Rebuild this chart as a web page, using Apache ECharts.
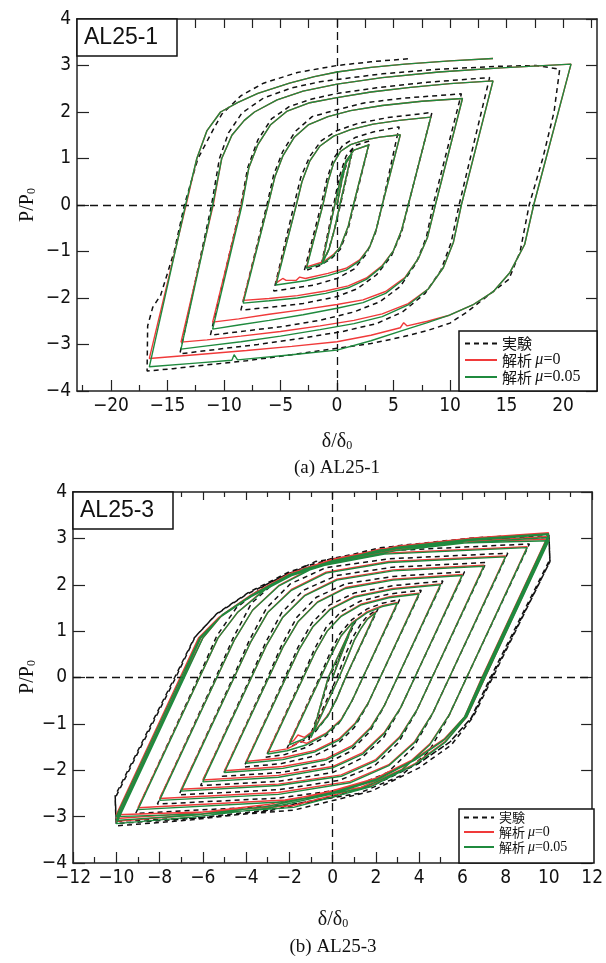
<!DOCTYPE html>
<html><head><meta charset="utf-8">
<script src="https://cdn.jsdelivr.net/npm/echarts@6/dist/echarts.min.js"></script>
<style>html,body{margin:0;padding:0;background:#fff}#c{width:606px;height:963px}</style>
</head><body><div id="c"></div><script>
const seriesNames = ['実験', '解析 μ=0', '解析 μ=0.05'];
const topXLabels = [-20, -15, -10, -5, 0, 5, 10, 15, 20];
const topXMinor = [-22.5, -17.5, -12.5, -7.5, -2.5, 2.5, 7.5, 12.5, 17.5, 22.5];
const topXTop = [-22.5, -20, -17.5, -15, -12.5, -10, -7.5, -5, -2.5, 0, 2.5, 5, 7.5, 10, 12.5, 15, 17.5, 20, 22.5];

const topExp = [[0,0],[0.5,0.6],[1.0,1.0],[1.4,1.2],
[0.3,0],[-0.3,-0.6],[-0.8,-1.0],[-1.4,-1.3],
[-0.3,0],[0.2,0.6],[0.8,1.05],[1.6,1.28],[2.9,1.38],
[1.5,0],[1.0,-0.5],[0.3,-0.95],[-0.5,-1.15],[-1.5,-1.3],[-2.9,-1.42],
[-1.4,0],[-0.9,0.55],[-0.3,1.0],[0.5,1.28],[1.6,1.45],[3.2,1.57],[5.5,1.68],
[4.0,0],[3.4,-0.6],[2.6,-1.05],[1.5,-1.38],[0,-1.58],[-2,-1.72],[-5.6,-1.85],
[-3.8,0],[-3.2,0.6],[-2.4,1.05],[-1.4,1.38],[0,1.6],[1.8,1.75],[4.5,1.88],[8.4,1.99],
[6.3,0],[5.7,-0.6],[4.8,-1.1],[3.5,-1.5],[1.8,-1.8],[0,-1.97],[-3,-2.12],[-6,-2.2],[-8.5,-2.26],
[-6.2,0],[-5.6,0.65],[-4.8,1.15],[-3.7,1.58],[-2.2,1.9],[0,2.05],[2.5,2.2],[6,2.3],[11.0,2.39],
[8.5,0],[7.9,-0.7],[7.0,-1.25],[5.6,-1.75],[3.8,-2.08],[1.5,-2.3],[-1.5,-2.48],[-5,-2.62],[-8.5,-2.72],[-11.2,-2.8],
[-8.5,0],[-7.9,0.8],[-7.0,1.4],[-5.8,1.85],[-4.2,2.12],[-2.2,2.28],[0,2.4],[3.5,2.52],[8,2.64],[13.5,2.74],
[10.8,0],[10.1,-0.8],[9.2,-1.4],[7.8,-1.9],[5.8,-2.3],[3.5,-2.55],[0.5,-2.72],[-3,-2.86],[-7,-3.0],[-10.5,-3.1],[-13.9,-3.2],
[-11.1,0],[-10.4,1.0],[-9.6,1.55],[-8.4,1.98],[-6.5,2.3],[-4,2.52],[-1.5,2.65],[0,2.7],[4,2.82],[9,2.92],[14,2.98],[17.6,3.0],[19.7,2.92],
[19.2,2.0],[18.2,1.0],[17.0,0],[16.2,-1.0],[15.2,-1.6],[13.5,-1.92],[11.5,-2.3],[10.0,-2.54],[8,-2.7],[5.9,-2.83],[3,-2.98],[0,-3.08],[-4,-3.22],[-8,-3.35],[-12,-3.45],[-14.5,-3.52],[-16.8,-3.57],
[-16.75,-2.6],[-16.3,-2.2],[-15.6,-1.94],[-14.4,-1.0],[-13.5,0],[-12.3,1.0],[-11.0,1.6],[-10.2,1.95],[-8.5,2.35],[-6.5,2.62],[-3.5,2.85],[0,3.0],[3,3.08],[6.5,3.15]];

const topMu0 = [[0,0],[0.4,0.5],[0.8,0.9],[1.3,1.12],
[0.25,0],[-0.2,-0.5],[-0.7,-0.95],[-1.3,-1.22],
[-0.2,0],[0.3,0.55],[0.8,0.95],[1.5,1.18],[2.8,1.29],
[1.45,0],[1.0,-0.45],[0.3,-0.9],[-0.3,-1.06],[-1.2,-1.22],[-2.7,-1.33],
[-1.25,0],[-0.8,0.5],[-0.3,0.9],[0.3,1.15],[1.2,1.3],[2.5,1.4],[3.8,1.46],[5.6,1.51],
[4.0,0],[3.5,-0.5],[2.9,-0.9],[2.0,-1.18],[0.8,-1.36],[-0.8,-1.47],[-2.8,-1.58],[-3.3,-1.55],[-3.6,-1.62],[-4.5,-1.62],[-4.8,-1.58],[-5.4,-1.68],
[-3.6,0],[-3.1,0.5],[-2.4,0.95],[-1.5,1.27],[-0.3,1.48],[1.2,1.62],[3.2,1.74],[5.5,1.82],[8.3,1.89],
[6.3,0],[5.7,-0.55],[5.0,-0.98],[4.0,-1.3],[2.6,-1.57],[1.0,-1.74],[-1.0,-1.85],[-3.5,-1.95],[-6.0,-2.01],[-8.3,-2.05],
[-6.1,0],[-5.5,0.6],[-4.8,1.05],[-3.8,1.45],[-2.5,1.73],[-0.8,1.9],[1.2,2.03],[4.0,2.14],[7.5,2.23],[11.1,2.29],
[8.7,0],[8.0,-0.7],[7.2,-1.15],[6.0,-1.56],[4.3,-1.86],[2.3,-2.04],[0,-2.14],[-3.0,-2.25],[-6.0,-2.35],[-8.7,-2.45],[-11.0,-2.52],
[-8.45,0],[-7.8,0.8],[-7.0,1.3],[-5.9,1.72],[-4.4,2.02],[-2.4,2.2],[0,2.31],[3.0,2.43],[6.5,2.53],[10.0,2.61],[13.8,2.67],
[11.0,0],[10.3,-0.8],[9.4,-1.35],[8.1,-1.8],[6.3,-2.12],[4.0,-2.34],[1.5,-2.48],[-1.5,-2.6],[-5.0,-2.72],[-8.5,-2.82],[-11.5,-2.9],[-13.8,-2.95],
[-10.95,0],[-10.2,1.0],[-9.3,1.5],[-8.2,1.82],[-7.3,2.0],[-5.3,2.26],[-3.0,2.45],[0,2.60],[4.0,2.74],[9.0,2.86],[14.5,2.95],[20.7,3.03],
[17.4,0],[16.6,-0.85],[15.3,-1.45],[13.8,-1.87],[12.0,-2.15],[9.95,-2.37],[8.0,-2.5],[6.2,-2.6],[5.9,-2.53],[5.6,-2.64],[3.0,-2.8],[0,-2.94],[-4.0,-3.04],[-8.0,-3.13],[-12.5,-3.22],[-16.6,-3.3],
[-13.35,0],[-12.4,1.0],[-11.5,1.6],[-10.3,2.0],[-8.8,2.2],[-7.0,2.4],[-4.2,2.62],[-2.0,2.76],[0,2.86],[3.0,2.96],[6.0,3.03],[10.0,3.1],[13.8,3.15]];

const topMu005 = [[0,0],[0.4,0.5],[0.8,0.9],[1.3,1.12],
[0.25,0],[-0.2,-0.5],[-0.7,-0.95],[-1.3,-1.25],
[-0.2,0],[0.3,0.55],[0.8,0.95],[1.5,1.18],[2.8,1.29],
[1.45,0],[1.0,-0.45],[0.3,-0.9],[-0.3,-1.08],[-1.2,-1.25],[-2.7,-1.36],
[-1.25,0],[-0.8,0.5],[-0.3,0.9],[0.3,1.15],[1.2,1.3],[2.5,1.4],[3.8,1.46],[5.6,1.51],
[4.0,0],[3.5,-0.5],[2.9,-0.9],[2.0,-1.2],[0.8,-1.4],[-0.8,-1.52],[-2.8,-1.63],[-5.4,-1.72],
[-3.6,0],[-3.1,0.5],[-2.4,0.95],[-1.5,1.27],[-0.3,1.48],[1.2,1.62],[3.2,1.74],[5.5,1.82],[8.3,1.89],
[6.3,0],[5.7,-0.55],[5.0,-0.98],[4.0,-1.32],[2.6,-1.6],[1.0,-1.78],[-1.0,-1.9],[-3.5,-2.0],[-6.0,-2.06],[-8.3,-2.11],
[-6.1,0],[-5.5,0.6],[-4.8,1.05],[-3.8,1.45],[-2.5,1.73],[-0.8,1.9],[1.2,2.03],[4.0,2.14],[7.5,2.23],[11.1,2.29],
[8.7,0],[8.0,-0.7],[7.2,-1.15],[6.0,-1.58],[4.3,-1.9],[2.3,-2.1],[0,-2.22],[-3.0,-2.36],[-6.0,-2.48],[-8.7,-2.58],[-11.0,-2.67],
[-8.4,0],[-7.8,0.8],[-7.0,1.3],[-5.9,1.72],[-4.4,2.02],[-2.4,2.2],[0,2.31],[3.0,2.43],[6.5,2.53],[10.0,2.61],[13.8,2.67],
[11.0,0],[10.3,-0.8],[9.4,-1.35],[8.1,-1.8],[6.3,-2.15],[4.0,-2.4],[1.5,-2.55],[-1.5,-2.68],[-5.0,-2.82],[-8.5,-2.94],[-11.5,-3.03],[-13.8,-3.1],
[-11.0,0],[-10.2,1.0],[-9.3,1.5],[-8.2,1.82],[-7.3,2.0],[-5.3,2.26],[-3.0,2.45],[0,2.60],[4.0,2.74],[9.0,2.86],[14.5,2.95],[20.7,3.03],
[17.4,0],[16.6,-0.85],[15.3,-1.45],[13.8,-1.87],[12.0,-2.15],[9.95,-2.37],[8.0,-2.53],[5.9,-2.69],[3.0,-2.92],[0,-3.12],[-4.0,-3.22],[-8.8,-3.33],[-9.1,-3.22],[-9.3,-3.34],[-12.5,-3.4],[-16.6,-3.48],
[-13.4,0],[-12.4,1.0],[-11.5,1.6],[-10.3,2.0],[-8.8,2.2],[-7.0,2.4],[-4.2,2.62],[-2.0,2.76],[0,2.86],[3.0,2.96],[6.0,3.03],[10.0,3.1],[13.8,3.15]];

const botExp = [[0,0],[0.45,0.6],[0.7,0.9],[0.9,1.1],[1.1,1.25],
[-0.15,0],[-0.5,-0.55],[-0.75,-0.9],[-0.95,-1.15],[-1.1,-1.35],
[0.2,0],[0.6,0.5],[0.95,0.88],[1.3,1.15],[1.6,1.32],[2.1,1.48],
[0.6,0],[0.15,-0.5],[-0.3,-0.88],[-0.8,-1.17],[-1.4,-1.38],[-2.1,-1.52],
[-0.6,0],[-0.1,0.55],[0.35,0.95],[0.9,1.25],[1.6,1.48],[2.3,1.6],[3.1,1.68],
[1.4,0],[0.85,-0.55],[0.3,-0.98],[-0.4,-1.3],[-1.3,-1.52],[-2.2,-1.66],[-3.1,-1.72],
[-1.4,0],[-0.85,0.6],[-0.3,1.08],[0.4,1.42],[1.3,1.65],[2.6,1.8],[4.1,1.88],
[2.2,0],[1.6,-0.6],[1.0,-1.08],[0.2,-1.45],[-0.9,-1.7],[-2.4,-1.86],[-4.1,-1.93],
[-2.2,0],[-1.6,0.65],[-0.95,1.18],[-0.15,1.56],[1.0,1.82],[2.8,1.98],[5.1,2.08],
[3.0,0],[2.35,-0.65],[1.7,-1.18],[0.8,-1.6],[-0.4,-1.88],[-2.4,-2.05],[-5.1,-2.13],
[-3.0,0],[-2.35,0.7],[-1.65,1.3],[-0.75,1.73],[0.6,2.02],[2.8,2.18],[6.1,2.28],
[3.8,0],[3.1,-0.7],[2.35,-1.3],[1.3,-1.75],[0,-2.05],[-2.5,-2.24],[-6.1,-2.33],
[-3.8,0],[-3.1,0.75],[-2.35,1.4],[-1.35,1.88],[0.2,2.2],[2.8,2.38],[7.1,2.48],
[4.6,0],[3.85,-0.75],[3.05,-1.4],[1.95,-1.9],[0.3,-2.22],[-2.5,-2.42],[-7.1,-2.53],
[-4.6,0],[-3.85,0.8],[-3.05,1.5],[-1.95,2.02],[-0.3,2.37],[2.6,2.56],[8.1,2.68],
[5.4,0],[4.6,-0.8],[3.75,-1.5],[2.55,-2.05],[0.7,-2.4],[-2.5,-2.6],[-8.1,-2.73],
[-5.4,0],[-4.6,0.85],[-3.75,1.6],[-2.55,2.1],[-0.8,2.5],[2.4,2.73],[9.1,2.88],
[6.2,0],[5.35,-0.85],[4.45,-1.6],[3.15,-2.12],[1.2,-2.5],[-2.2,-2.76],[-9.1,-2.93],
[-6.2,0],[-5.35,0.9],[-4.45,1.5],[-3.1,2.0],[-1.3,2.4],[2.2,2.8],[6,2.96],[10,3.02],
[10.05,2.5],[7.4,0],[6.5,-0.85],[5.5,-1.45],[4.0,-1.95],[1.8,-2.45],[-1.8,-2.86],[-6,-3.02],[-10,-3.1],
[-10.05,-2.55],[-7.3,0],[-6.4,0.85],[-5.4,1.35],[-3.95,1.8],[-2,2.25],[0,2.53],[3,2.8],[6.5,2.97],[10,3.06],
[10.05,2.5],[7.35,0],[6.45,-0.85],[5.45,-1.38],[4.0,-1.84],[2,-2.28],[0,-2.56],[-3,-2.86],[-6.5,-3.04],[-10,-3.15],
[-10.05,-2.6],[-7.25,0],[-6.35,0.88],[-5.35,1.38],[-3.9,1.83],[-2,2.28],[0,2.57],[3,2.84],[6.5,3.01],[10,3.1],
[10.05,2.55],[7.3,0],[6.4,-0.88],[5.4,-1.4],[3.95,-1.86],[2,-2.3],[0,-2.58],[-3,-2.88],[-6.5,-3.07],[-10,-3.2],[-10.05,-2.65]];

const botMu0 = [[0,0],[0.45,0.55],[0.7,0.85],[0.85,1.05],[1,1.22],
[-0.2,0],[-0.5,-0.5],[-0.7,-0.85],[-0.85,-1.08],[-1,-1.27],
[0.3,0],[0.7,0.45],[1.0,0.8],[1.3,1.05],[1.6,1.26],[2,1.42],
[0.6,0],[0.2,-0.45],[-0.2,-0.8],[-0.7,-1.08],[-1.3,-1.29],[-1.6,-1.24],[-1.8,-1.36],[-2,-1.41],
[-0.55,0],[-0.05,0.5],[0.4,0.9],[0.9,1.18],[1.6,1.42],[2.3,1.55],[3,1.62],
[1.4,0],[0.9,-0.5],[0.4,-0.9],[-0.3,-1.2],[-1.2,-1.42],[-1.5,-1.37],[-1.8,-1.47],[-2.1,-1.54],[-3,-1.61],
[-1.35,0],[-0.8,0.55],[-0.25,1.0],[0.4,1.33],[1.3,1.58],[2.6,1.74],[4,1.82],
[2.2,0],[1.65,-0.55],[1.05,-0.98],[0.3,-1.32],[-0.8,-1.57],[-2.3,-1.73],[-4,-1.81],
[-2.15,0],[-1.55,0.6],[-0.9,1.1],[-0.1,1.48],[1.0,1.75],[2.8,1.92],[5,2.02],
[3.0,0],[2.4,-0.6],[1.75,-1.08],[0.9,-1.47],[-0.3,-1.75],[-2.3,-1.92],[-5,-2.01],
[-2.95,0],[-2.3,0.65],[-1.6,1.2],[-0.7,1.63],[0.6,1.94],[2.8,2.12],[6,2.22],
[3.8,0],[3.15,-0.65],[2.4,-1.18],[1.4,-1.62],[0,-1.92],[-2.5,-2.11],[-6,-2.21],
[-3.75,0],[-3.05,0.7],[-2.3,1.3],[-1.3,1.77],[0.2,2.12],[2.8,2.32],[7,2.42],
[4.6,0],[3.9,-0.7],[3.1,-1.28],[2.0,-1.77],[0.4,-2.1],[-2.5,-2.3],[-7,-2.41],
[-4.55,0],[-3.8,0.75],[-3.0,1.4],[-1.9,1.9],[-0.3,2.27],[2.6,2.5],[8,2.62],
[5.4,0],[4.65,-0.75],[3.8,-1.38],[2.6,-1.88],[0.8,-2.24],[-2.5,-2.48],[-8,-2.61],
[-5.35,0],[-4.55,0.8],[-3.7,1.45],[-2.5,1.98],[-0.8,2.4],[2.4,2.68],[9,2.82],
[6.2,0],[5.4,-0.8],[4.5,-1.43],[3.2,-1.98],[1.3,-2.37],[-2.2,-2.64],[-9,-2.81],
[-6.15,0],[-5.3,0.85],[-4.4,1.4],[-3.1,1.92],[-1.3,2.36],[2.2,2.77],[6,2.92],[10,2.98],
[7.05,0],[6.2,-0.85],[5.2,-1.38],[3.8,-1.86],[1.8,-2.32],[-1.8,-2.76],[-6,-2.9],[-10,-2.96],
[-7.05,0],[-6.2,0.85],[-5.25,1.3],[-3.9,1.74],[-2,2.2],[0,2.49],[3,2.76],[6.5,2.94],[10,3.04],
[7.0,0],[6.15,-0.85],[5.2,-1.31],[3.85,-1.74],[2,-2.17],[0,-2.44],[-3,-2.74],[-6.5,-2.93],[-10,-3.04],
[-6.95,0],[-6.1,0.85],[-5.15,1.32],[-3.8,1.77],[-2,2.22],[0,2.52],[3,2.8],[6.5,2.98],[10,3.1],
[6.9,0],[6.1,-0.85],[5.15,-1.33],[3.8,-1.77],[2,-2.2],[0,-2.47],[-3,-2.78],[-6.5,-2.97],[-10,-3.1],
[-6.9,0],[-6.0,0.85],[-5.1,1.35],[-3.75,1.79],[-2,2.24],[0,2.55],[3,2.83],[6.5,3.01],[10,3.12]];

const botMu005 = [[0,0],[0.45,0.55],[0.7,0.85],[0.85,1.05],[1,1.2],
[-0.2,0],[-0.5,-0.5],[-0.7,-0.85],[-0.85,-1.1],[-1,-1.3],
[0.3,0],[0.7,0.45],[1.0,0.8],[1.3,1.05],[1.6,1.25],[2,1.4],
[0.6,0],[0.2,-0.45],[-0.2,-0.82],[-0.7,-1.1],[-1.3,-1.32],[-2,-1.45],
[-0.55,0],[-0.05,0.5],[0.4,0.9],[0.9,1.17],[1.6,1.4],[2.3,1.53],[3,1.6],
[1.4,0],[0.9,-0.5],[0.4,-0.92],[-0.3,-1.22],[-1.2,-1.45],[-2.1,-1.58],[-3,-1.65],
[-1.35,0],[-0.8,0.55],[-0.25,1.0],[0.4,1.32],[1.3,1.56],[2.6,1.72],[4,1.8],
[2.2,0],[1.65,-0.55],[1.05,-1.0],[0.3,-1.35],[-0.8,-1.6],[-2.3,-1.77],[-4,-1.85],
[-2.15,0],[-1.55,0.6],[-0.9,1.1],[-0.1,1.47],[1.0,1.73],[2.8,1.9],[5,2.0],
[3.0,0],[2.4,-0.6],[1.75,-1.1],[0.9,-1.5],[-0.3,-1.78],[-2.3,-1.96],[-5,-2.05],
[-2.95,0],[-2.3,0.65],[-1.6,1.2],[-0.7,1.62],[0.6,1.92],[2.8,2.1],[6,2.2],
[3.8,0],[3.15,-0.65],[2.4,-1.2],[1.4,-1.65],[0,-1.95],[-2.5,-2.15],[-6,-2.25],
[-3.75,0],[-3.05,0.7],[-2.3,1.3],[-1.3,1.76],[0.2,2.1],[2.8,2.3],[7,2.4],
[4.6,0],[3.9,-0.7],[3.1,-1.3],[2.0,-1.8],[0.4,-2.13],[-2.5,-2.33],[-7,-2.45],
[-4.55,0],[-3.8,0.75],[-3.0,1.4],[-1.9,1.88],[-0.3,2.25],[2.6,2.48],[8,2.6],
[5.4,0],[4.65,-0.75],[3.8,-1.4],[2.6,-1.9],[0.8,-2.27],[-2.5,-2.52],[-8,-2.65],
[-5.35,0],[-4.55,0.8],[-3.7,1.45],[-2.5,1.97],[-0.8,2.38],[2.4,2.66],[9,2.8],
[6.2,0],[5.4,-0.8],[4.5,-1.45],[3.2,-2.0],[1.3,-2.4],[-2.2,-2.68],[-9,-2.85],
[-6.15,0],[-5.3,0.85],[-4.4,1.4],[-3.1,1.9],[-1.3,2.34],[2.2,2.75],[6,2.9],[10,2.95],
[7.05,0],[6.2,-0.85],[5.2,-1.4],[3.8,-1.88],[1.8,-2.35],[-1.8,-2.8],[-6,-2.94],[-10,-3.0],
[-7.0,0],[-6.15,0.85],[-5.2,1.3],[-3.85,1.72],[-2,2.18],[0,2.47],[3,2.74],[6.5,2.92],[10,3.02],
[6.98,0],[6.15,-0.85],[5.2,-1.33],[3.85,-1.76],[2,-2.2],[0,-2.48],[-3,-2.78],[-6.5,-2.97],[-10,-3.08],
[-6.92,0],[-6.1,0.85],[-5.15,1.32],[-3.8,1.75],[-2,2.2],[0,2.5],[3,2.78],[6.5,2.96],[10,3.08],
[6.92,0],[6.1,-0.85],[5.15,-1.35],[3.8,-1.78],[2,-2.22],[0,-2.51],[-3,-2.82],[-6.5,-3.01],[-10,-3.15],
[-6.85,0],[-6.0,0.85],[-5.1,1.35],[-3.75,1.77],[-2,2.22],[0,2.52],[3,2.81],[6.5,2.99],[10,3.1]];

const chart = echarts.init(document.getElementById('c'));
const tickFont = "'Liberation Sans Narrow','DejaVu Sans Condensed',sans-serif";
const serif = "'Liberation Serif','DejaVu Serif',serif";
const minus = v => String(v).replace('-', '\u2212');
const axisLine = {show: true, onZero: false, lineStyle: {color: '#222', width: 1.5}};
const lbl = {color: '#111', fontFamily: tickFont, fontSize: 19};
const COLORS = ['#111', '#f03a3a', '#1f8a3e'];

function lineSeries(name, data, xi, yi, idx, mark) {
  const s = {
    name: name, type: 'line', data: data, xAxisIndex: xi, yAxisIndex: yi,
    symbol: 'none', showSymbol: false, animation: false, z: 3 + idx,
    lineStyle: {color: COLORS[idx], width: idx === 0 ? 1.5 : 1.4, type: idx === 0 ? [5, 4] : 'solid'},
    itemStyle: {color: COLORS[idx]}
  };
  if (mark) {
    s.markLine = {silent: true, symbol: 'none', animation: false, label: {show: false},
      lineStyle: {color: '#111', width: 1.3, type: [8, 5]},
      data: [{xAxis: 0}, {yAxis: 0}]};
  }
  return s;
}

const legendRich = {mu: {fontFamily: serif, fontStyle: 'italic', fontSize: 16, color: '#111'},
  eq: {fontFamily: serif, fontSize: 16, color: '#111'}};
const legendRichSmall = {mu: {fontFamily: serif, fontStyle: 'italic', fontSize: 14, color: '#111'},
  eq: {fontFamily: serif, fontSize: 14, color: '#111'}};
function legendFmt(n) {
  if (n === seriesNames[0]) return n;
  const parts = n.split(' μ');
  return parts[0] + ' {mu|μ}{eq|' + parts[1] + '}';
}

chart.setOption({
  animation: false,
  grid: [
    {left: 77, top: 19, width: 520, height: 372},
    {left: 73, top: 492, width: 521, height: 371}
  ],
  xAxis: [
    {gridIndex: 0, type: 'value', min: -23, max: 23, position: 'bottom', axisLine: axisLine, splitLine: {show: false},
      axisTick: {show: true, inside: true, length: 11, customValues: topXLabels, lineStyle: {color: '#222', width: 1.2}},
      axisLabel: {show: true, customValues: topXLabels, formatter: minus, margin: 6, ...lbl}},
    {gridIndex: 0, type: 'value', min: -23, max: 23, position: 'bottom', axisLine: {show: false, onZero: false}, splitLine: {show: false},
      axisTick: {show: true, inside: true, length: 6, customValues: topXMinor, lineStyle: {color: '#222', width: 1.2}},
      axisLabel: {show: false}},
    {gridIndex: 0, type: 'value', min: -23, max: 23, position: 'top', axisLine: axisLine, splitLine: {show: false},
      axisTick: {show: true, inside: true, length: 9, customValues: topXTop, lineStyle: {color: '#222', width: 1.2}},
      axisLabel: {show: false}},
    {gridIndex: 1, type: 'value', min: -12, max: 12, interval: 2, position: 'bottom', axisLine: axisLine, splitLine: {show: false},
      axisTick: {show: true, inside: true, length: 11, lineStyle: {color: '#222', width: 1.2}},
      minorTick: {show: true, splitNumber: 2, length: 6, lineStyle: {color: '#222', width: 1.2}},
      axisLabel: {show: true, formatter: minus, margin: 6, ...lbl}},
    {gridIndex: 1, type: 'value', min: -12, max: 12, interval: 2, position: 'top', axisLine: axisLine, splitLine: {show: false},
      axisTick: {show: true, inside: true, length: 8, lineStyle: {color: '#222', width: 1.2}},
      minorTick: {show: true, splitNumber: 2, length: 5, lineStyle: {color: '#222', width: 1.2}},
      axisLabel: {show: false}}
  ],
  yAxis: [
    {gridIndex: 0, type: 'value', min: -4, max: 4, interval: 1, position: 'left', axisLine: axisLine, splitLine: {show: false},
      axisTick: {show: true, inside: true, length: 12, lineStyle: {color: '#222', width: 1.2}},
      axisLabel: {show: true, formatter: minus, margin: 6, ...lbl}},
    {gridIndex: 0, type: 'value', min: -4, max: 4, interval: 1, position: 'right', axisLine: axisLine, splitLine: {show: false},
      axisTick: {show: true, inside: true, length: 11, lineStyle: {color: '#222', width: 1.2}},
      axisLabel: {show: false}},
    {gridIndex: 1, type: 'value', min: -4, max: 4, interval: 1, position: 'left', axisLine: axisLine, splitLine: {show: false},
      axisTick: {show: true, inside: true, length: 12, lineStyle: {color: '#222', width: 1.2}},
      axisLabel: {show: true, formatter: minus, margin: 6, ...lbl}},
    {gridIndex: 1, type: 'value', min: -4, max: 4, interval: 1, position: 'right', axisLine: axisLine, splitLine: {show: false},
      axisTick: {show: true, inside: true, length: 11, lineStyle: {color: '#222', width: 1.2}},
      axisLabel: {show: false}}
  ],
  legend: [
    {data: seriesNames, orient: 'vertical', left: 464, top: 336, itemWidth: 32, itemHeight: 10, itemGap: 1,
      padding: 0, itemStyle: {opacity: 0}, textStyle: {fontSize: 15, color: '#111', fontFamily: "'Noto Sans CJK JP',sans-serif", rich: legendRich},
      formatter: legendFmt, selectedMode: false},
    {data: seriesNames, orient: 'vertical', left: 463, top: 811, itemWidth: 30, itemHeight: 10, itemGap: 1,
      padding: 0, itemStyle: {opacity: 0}, textStyle: {fontSize: 13, color: '#111', fontFamily: "'Noto Sans CJK JP',sans-serif", rich: legendRichSmall},
      formatter: legendFmt, selectedMode: false}
  ],
  series: [
    lineSeries(seriesNames[0], topExp, 0, 0, 0, true),
    lineSeries(seriesNames[1], topMu0, 0, 0, 1, false),
    lineSeries(seriesNames[2], topMu005, 0, 0, 2, false),
    lineSeries(seriesNames[0], botExp, 3, 2, 0, true),
    lineSeries(seriesNames[1], botMu0, 3, 2, 1, false),
    lineSeries(seriesNames[2], botMu005, 3, 2, 2, false)
  ],
  graphic: [
    {type: 'rect', z: 1, shape: {x: 459, y: 331, width: 138, height: 60}, style: {fill: '#fff', stroke: '#111', lineWidth: 1.5}},
    {type: 'rect', z: 1, shape: {x: 459, y: 809, width: 135, height: 54}, style: {fill: '#fff', stroke: '#111', lineWidth: 1.5}},
    {type: 'rect', z: 10, shape: {x: 77, y: 19, width: 100, height: 37}, style: {fill: '#fff', stroke: '#111', lineWidth: 1.5}},
    {type: 'text', z: 11, x: 84, y: 38, style: {text: 'AL25-1', font: "23px 'Liberation Sans', Arial, sans-serif", fill: '#111', verticalAlign: 'middle'}},
    {type: 'rect', z: 10, shape: {x: 73, y: 492, width: 100, height: 37}, style: {fill: '#fff', stroke: '#111', lineWidth: 1.5}},
    {type: 'text', z: 11, x: 80, y: 511, style: {text: 'AL25-3', font: "23px 'Liberation Sans', Arial, sans-serif", fill: '#111', verticalAlign: 'middle'}},
    {type: 'text', x: 28, y: 205, rotation: Math.PI / 2, style: {text: 'P/P{s|0}', font: "20px " + serif, fill: '#111', align: 'center', verticalAlign: 'middle',
      rich: {s: {fontSize: 12, fontFamily: serif, verticalAlign: 'bottom', padding: [8, 0, 0, 0]}}}},
    {type: 'text', x: 28, y: 677, rotation: Math.PI / 2, style: {text: 'P/P{s|0}', font: "20px " + serif, fill: '#111', align: 'center', verticalAlign: 'middle',
      rich: {s: {fontSize: 12, fontFamily: serif, verticalAlign: 'bottom', padding: [8, 0, 0, 0]}}}},
    {type: 'text', x: 337, y: 442, style: {text: 'δ/δ{s|0}', font: "20px " + serif, fill: '#111', align: 'center', verticalAlign: 'middle',
      rich: {s: {fontSize: 12, fontFamily: serif, verticalAlign: 'bottom', padding: [8, 0, 0, 0]}}}},
    {type: 'text', x: 333, y: 920, style: {text: 'δ/δ{s|0}', font: "20px " + serif, fill: '#111', align: 'center', verticalAlign: 'middle',
      rich: {s: {fontSize: 12, fontFamily: serif, verticalAlign: 'bottom', padding: [8, 0, 0, 0]}}}},
    {type: 'text', x: 337, y: 468, style: {text: '(a) AL25-1', font: "19px " + serif, fill: '#111', align: 'center', verticalAlign: 'middle'}},
    {type: 'text', x: 333, y: 947, style: {text: '(b) AL25-3', font: "19px " + serif, fill: '#111', align: 'center', verticalAlign: 'middle'}}
  ]
});
</script></body></html>
